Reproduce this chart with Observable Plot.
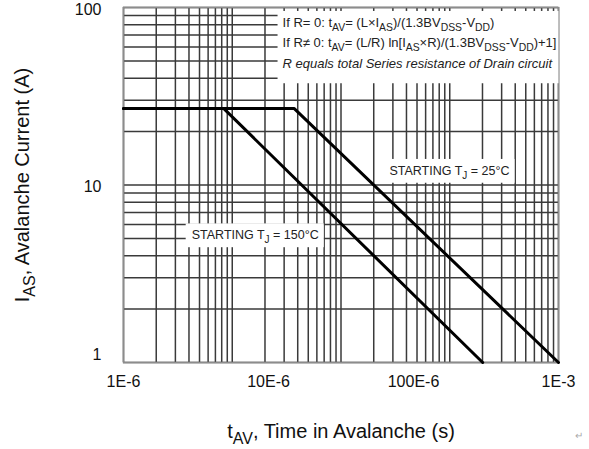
<!DOCTYPE html>
<html><head><meta charset="utf-8">
<script src="https://cdn.jsdelivr.net/npm/d3@7"></script>
<script src="https://cdn.jsdelivr.net/npm/@observablehq/plot@0.6"></script>
<style>
body{margin:0;background:#fff;}
#chart{position:relative;width:589px;height:449px;}
#chart svg{position:absolute;left:0;top:0;}
</style></head><body><div id="chart"></div>
<script>
// ---- data ----
const tav25 = [1e-6, 1.5e-5, 1e-3];
const ias25 = [27, 27, 1];
const tav150 = [1e-6, 4.9e-6, 3.0e-4];
const ias150 = [27, 27, 1];
const xTicks = [1e-6, 1e-5, 1e-4, 1e-3];
const xTickLabels = ["1E-6", "10E-6", "100E-6", "1E-3"];
const yTicks = [100, 10, 1];
const yTickLabels = ["100", "10", "1"];
const gridXDomain = [1e-6, 1e-2]; // the printed grid spans four decades
const gridYDomain = [1, 100];
const curveLabels = ["STARTING T_{J} = 25°C", "STARTING T_{J} = 150°C"];
const curveLabelX = [1.77e-4, 8.1e-6];
const curveLabelY = [12, 5.2];
const noteLines = [
  "If R= 0: t_{AV}= (L×I_{AS})/(1.3BV_{DSS}-V_{DD})",
  "If R≠ 0: t_{AV}= (L/R) ln[I_{AS}×R)/(1.3BV_{DSS}-V_{DD})+1]",
  "R equals total Series resistance of Drain circuit"
];
const noteX = [1.25e-5, 1.25e-5, 1.25e-5];
const noteY = [82, 63, 48];
const xTitle = "t_{AV}, Time in Avalanche (s)";
const yTitle = "I_{AS}, Avalanche Current (A)";

const FONT = '"Liberation Sans", Arial, sans-serif';
const W = 589, H = 449;
const M = {marginLeft: 123, marginRight: 31, marginTop: 7, marginBottom: 87};

// ---- grid layer ----
const gx = d3.scaleLog().domain(gridXDomain).ticks();
const gy = d3.scaleLog().domain(gridYDomain).ticks();
const gridPlot = Plot.plot({
  width: W, height: H, ...M,
  x: {type: "log", domain: gridXDomain, axis: null},
  y: {type: "log", domain: gridYDomain, axis: null},
  marks: [
    Plot.ruleX(gx, {stroke: "#3a3a3a", strokeWidth: 1.5}),
    Plot.ruleY(gy, {stroke: "#3a3a3a", strokeWidth: 1.5}),
    Plot.frame({stroke: "#8c8c8c", strokeWidth: 1.5})
  ]
});

// ---- main layer ----
const d25 = tav25.map((t, i) => ({t, a: ias25[i]}));
const d150 = tav150.map((t, i) => ({t, a: ias150[i]}));
const mainPlot = Plot.plot({
  width: W, height: H, ...M,
  style: {background: "transparent", fontFamily: FONT, color: "#111"},
  x: {type: "log", domain: [1e-6, 1e-3], axis: null},
  y: {type: "log", domain: [1, 100], axis: null},
  marks: [
    Plot.line(d25, {x: "t", y: "a", stroke: "#000", strokeWidth: 3}),
    Plot.line(d150, {x: "t", y: "a", stroke: "#000", strokeWidth: 3}),
    Plot.text(curveLabels, {x: (d, i) => curveLabelX[i], y: (d, i) => curveLabelY[i], text: d => d, fontSize: 12.5, fill: "#222"}),
    Plot.text(noteLines.slice(0, 2), {x: (d, i) => noteX[i], y: (d, i) => noteY[i], text: d => d, textAnchor: "start", fontSize: 13, fill: "#222"}),
    Plot.text(noteLines.slice(2), {x: (d, i) => noteX[i + 2], y: (d, i) => noteY[i + 2], text: d => d, textAnchor: "start", fontSize: 13, fontStyle: "italic", fill: "#222"}),
    Plot.text(xTicks, {x: d => d, text: (d, i) => xTickLabels[i], frameAnchor: "bottom", textAnchor: "middle", dy: 24, fontSize: 16}),
    Plot.text(yTicks.slice(0, 2), {y: d => d, text: (d, i) => yTickLabels[i], frameAnchor: "left", textAnchor: "end", dx: -22, dy: 2, fontSize: 16}),
    Plot.text(yTicks.slice(2), {y: d => d, text: (d, i) => yTickLabels[i + 2], frameAnchor: "left", textAnchor: "end", dx: -22, dy: -8, fontSize: 16}),
    Plot.text([yTitle], {frameAnchor: "left", text: d => d, textAnchor: "middle", rotate: -90, dx: -101, fontSize: 20}),
    Plot.text([xTitle], {frameAnchor: "bottom", text: d => d, textAnchor: "middle", dy: 75, fontSize: 20}),
    Plot.text(["↵"], {frameAnchor: "bottom-right", text: d => d, dx: 24, dy: 76, fontSize: 10, fill: "#aaa"})
  ]
});

const chart = document.getElementById("chart");
chart.appendChild(gridPlot);
chart.appendChild(mainPlot);

// subscripts: "_{..}" markup -> tspans
const NS = "http://www.w3.org/2000/svg";
mainPlot.querySelectorAll("text").forEach(t => {
  const s = t.textContent;
  t.setAttribute("data-raw", s);
  if (!s.includes("_{")) return;
  const fs = parseFloat(getComputedStyle(t).fontSize) || 12;
  while (t.firstChild) t.removeChild(t.firstChild);
  const re = /_\{([^}]*)\}/g;
  let last = 0, m;
  const add = (str, sub) => {
    if (!str) return;
    const sp = document.createElementNS(NS, "tspan");
    sp.textContent = str;
    if (sub) { sp.setAttribute("baseline-shift", (-0.3 * fs).toFixed(1) + "px"); sp.setAttribute("font-size", (0.8 * fs).toFixed(1) + "px"); }
    t.appendChild(sp);
  };
  while ((m = re.exec(s))) { add(s.slice(last, m.index), false); add(m[1], true); last = re.lastIndex; }
  add(s.slice(last), false);
});

// white boxes behind annotations
function boxFor(texts, pad) {
  let x0 = Infinity, y0 = Infinity, x1 = -Infinity, y1 = -Infinity;
  texts.forEach(t => {
    const b = t.getBBox();
    const p = mainPlot.getScreenCTM().inverse().multiply(t.getScreenCTM());
    const ax = p.a * b.x + p.e, ay = p.d * b.y + p.f;
    x0 = Math.min(x0, ax); y0 = Math.min(y0, ay);
    x1 = Math.max(x1, ax + b.width); y1 = Math.max(y1, ay + b.height);
  });
  const r = document.createElementNS(NS, "rect");
  r.setAttribute("x", x0 - pad[3]); r.setAttribute("y", y0 - pad[0]);
  r.setAttribute("width", x1 - x0 + pad[1] + pad[3]); r.setAttribute("height", y1 - y0 + pad[0] + pad[2]);
  r.setAttribute("fill", "#fff");
  const firstG = mainPlot.querySelector("g");
  mainPlot.insertBefore(r, firstG);
}
const allText = [...mainPlot.querySelectorAll("text")];
const byRaw = raw => allText.filter(t => t.getAttribute("data-raw") === raw);
boxFor(noteLines.flatMap(byRaw), [4, 2, 12, 5]);
curveLabels.forEach(l => boxFor(byRaw(l), [5, 5, 2, 6]));
</script></body></html>
